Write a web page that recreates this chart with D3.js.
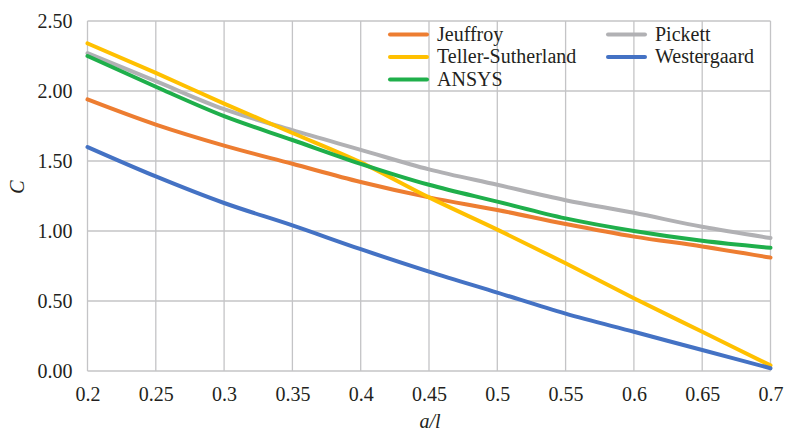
<!DOCTYPE html>
<html><head><meta charset="utf-8">
<script src="https://cdn.jsdelivr.net/npm/d3@7"></script>
<style>
html,body{margin:0;padding:0;background:#fff;}
</style></head>
<body>
<svg id="chart" width="789" height="435"></svg>
<script>
const xValues = [0.2,0.25,0.3,0.35,0.4,0.45,0.5,0.55,0.6,0.65,0.7];
const xTickLabels = ["0.2","0.25","0.3","0.35","0.4","0.45","0.5","0.55","0.6","0.65","0.7"];
const yTicks = [0,0.5,1,1.5,2,2.5];
const seriesNames = ["Jeuffroy","Pickett","Teller-Sutherland","Westergaard","ANSYS"];
const jeuffroy = [1.94,1.76,1.61,1.48,1.35,1.24,1.15,1.05,0.96,0.89,0.81];
const pickett = [2.27,2.07,1.87,1.72,1.58,1.44,1.33,1.22,1.13,1.03,0.95];
const teller = [2.34,2.13,1.91,1.70,1.49,1.24,1.01,0.77,0.52,0.28,0.04];
const westergaard = [1.60,1.39,1.20,1.04,0.87,0.71,0.56,0.41,0.28,0.15,0.02];
const ansys = [2.25,2.03,1.82,1.65,1.48,1.33,1.21,1.09,1.00,0.93,0.88];
const colors = ["#ED7D31","#B1B1B4","#FFC000","#4472C4","#1FAF4B"];
const seriesValues = [jeuffroy,pickett,teller,westergaard,ansys];

const FONT = "'Liberation Serif', 'Times New Roman', Tinos, 'DejaVu Serif', serif";
const svg = d3.select("#chart");
const L = 87.5, R = 770.5, T = 21, B = 371;
const x = d3.scaleLinear().domain([0.2,0.7]).range([L,R]);
const y = d3.scaleLinear().domain([0,2.5]).range([B,T]);

const grid = svg.append("g");
grid.selectAll("line.h").data(yTicks).enter().append("line")
  .attr("x1",L).attr("x2",R).attr("y1",d=>y(d)).attr("y2",d=>y(d))
  .attr("stroke","#c4c4c6").attr("stroke-width",1.3);
grid.selectAll("line.v").data(xValues).enter().append("line")
  .attr("y1",T).attr("y2",B).attr("x1",d=>x(d)).attr("x2",d=>x(d))
  .attr("stroke","#c4c4c6").attr("stroke-width",1.3);

const yAxis = d3.axisLeft(y).tickValues(yTicks).tickFormat(d3.format(".2f")).tickSize(0).tickPadding(15);
const ya = svg.append("g").attr("transform",`translate(${L},0)`).call(yAxis)
  .attr("font-family",FONT).attr("font-size",20);
ya.select(".domain").remove();
ya.selectAll("text").attr("fill","#231f20");

const xAxis = d3.axisBottom(x).tickValues(xValues).tickFormat((d,i)=>xTickLabels[i]).tickSize(0).tickPadding(16);
const xa = svg.append("g").attr("transform",`translate(0,${B})`).call(xAxis)
  .attr("font-family",FONT).attr("font-size",20);
xa.select(".domain").remove();
xa.selectAll("text").attr("fill","#231f20");

const line = d3.line().x((d,i)=>x(xValues[i])).y(d=>y(d)).curve(d3.curveMonotoneX);
seriesValues.forEach((vals,k)=>{
  svg.append("path").datum(vals).attr("d",line).attr("fill","none")
    .attr("stroke",colors[k]).attr("stroke-width",4).attr("stroke-linecap","round").attr("stroke-linejoin","round");
});

const legendPos = [[390,34.5],[608,34.5],[390,57],[608,57],[390,79.5]];
seriesNames.forEach((n,k)=>{
  const [lx,ly] = legendPos[k];
  svg.append("line").attr("x1",lx).attr("x2",lx+37).attr("y1",ly).attr("y2",ly)
    .attr("stroke",colors[k]).attr("stroke-width",4).attr("stroke-linecap","round");
  svg.append("text").attr("x",lx+47).attr("y",ly).attr("dy","0.32em")
    .attr("font-family",FONT).attr("fill","#231f20")
    .attr("font-size",20).text(n);
});

svg.append("text").attr("transform","translate(24,187) rotate(-90)")
  .attr("font-family",FONT).attr("fill","#231f20")
  .attr("text-anchor","middle").attr("font-size",20).attr("font-style","italic").text("C");
svg.append("text").attr("x",430).attr("y",428)
  .attr("font-family",FONT).attr("fill","#231f20")
  .attr("text-anchor","middle").attr("font-size",20).attr("font-style","italic").text("a/l");
</script>
</body></html>
